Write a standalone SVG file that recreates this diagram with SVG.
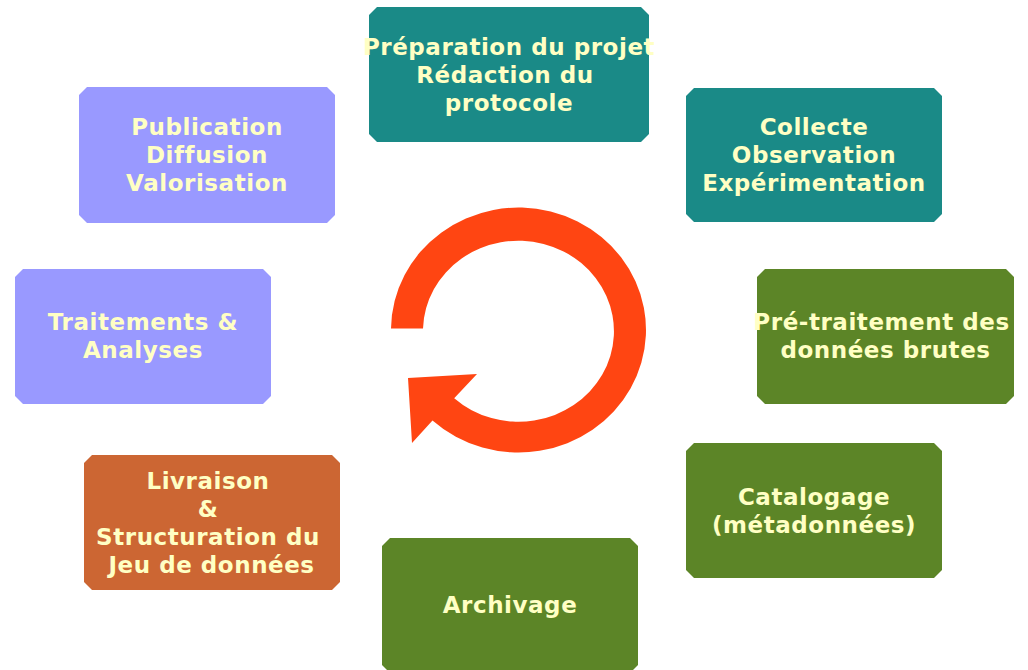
<svg xmlns="http://www.w3.org/2000/svg" width="1028" height="670" viewBox="0 0 1028 670">
<defs>
<style>
.t{font-family:"DejaVu Sans",sans-serif;font-weight:bold;font-size:23px;letter-spacing:0.55px;fill:#ffffc4;text-anchor:middle}
.teal{fill:#1a8a87}
.purple{fill:#9999ff}
.green{fill:#5c8527}
.orange{fill:#cc6633}
</style>
</defs>
<rect width="1028" height="670" fill="#ffffff"/>
<g id="connectors">
<path d="M391 328.5 A127.5 122.5 0 1 1 432.5 420.5 L412 443 L408 378 L477 374 L454.2 398.2 A95.5 90.5 0 1 0 423 328.5 Z" fill="#ff4512"/>
</g>
<g id="n1">
<path class="teal" d="M377 7 H641 L649 15 V134 L641 142 H377 L369 134 V15 Z"/>
<text class="t" x="509" y="55">Préparation du projet</text>
<text class="t" x="505" y="83">Rédaction du</text>
<text class="t" x="509" y="111">protocole</text>
</g>
<g id="n2">
<path class="teal" d="M694 88 H934 L942 96 V214 L934 222 H694 L686 214 V96 Z"/>
<text class="t" x="814" y="135">Collecte</text>
<text class="t" x="814" y="163">Observation</text>
<text class="t" x="814" y="191">Expérimentation</text>
</g>
<g id="n3">
<path class="green" d="M765 269 H1006 L1014 277 V396 L1006 404 H765 L757 396 V277 Z"/>
<text class="t" x="881.5" y="330">Pré-traitement des</text>
<text class="t" x="885.5" y="358">données brutes</text>
</g>
<g id="n4">
<path class="green" d="M694 443 H934 L942 451 V570 L934 578 H694 L686 570 V451 Z"/>
<text class="t" x="814" y="505">Catalogage</text>
<text class="t" x="814" y="533">(métadonnées)</text>
</g>
<g id="n5">
<path class="green" d="M390 538 H630 L638 546 V665 L630 673 H390 L382 665 V546 Z"/>
<text class="t" x="510" y="613">Archivage</text>
</g>
<g id="n6">
<path class="orange" d="M92 455 H332 L340 463 V582 L332 590 H92 L84 582 V463 Z"/>
<text class="t" x="208" y="489">Livraison</text>
<text class="t" x="208" y="517">&amp;</text>
<text class="t" x="208" y="545">Structuration du</text>
<text class="t" x="211.5" y="573">Jeu de données</text>
</g>
<g id="n7">
<path class="purple" d="M23 269 H263 L271 277 V396 L263 404 H23 L15 396 V277 Z"/>
<text class="t" x="143" y="330">Traitements &amp;</text>
<text class="t" x="143" y="358">Analyses</text>
</g>
<g id="n8">
<path class="purple" d="M87 87 H327 L335 95 V215 L327 223 H87 L79 215 V95 Z"/>
<text class="t" x="207" y="135">Publication</text>
<text class="t" x="207" y="163">Diffusion</text>
<text class="t" x="207" y="191">Valorisation</text>
</g>
</svg>
